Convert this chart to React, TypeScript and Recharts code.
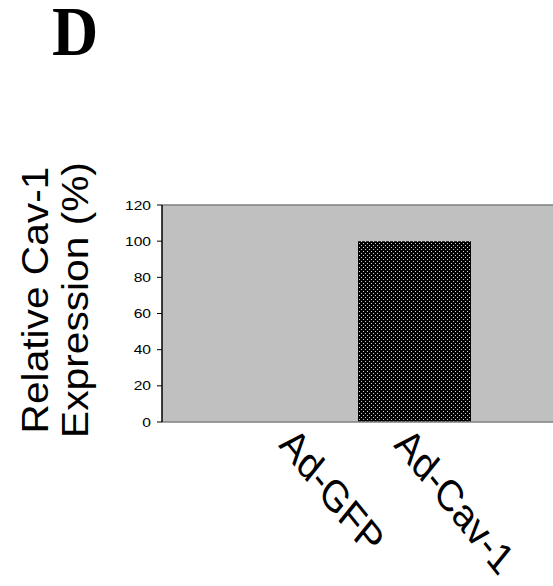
import { BarChart, Bar, XAxis, YAxis, CartesianGrid, ReferenceLine } from "recharts";

const groups = ["Ad-GFP", "Ad-Cav-1"];
const expression = [0, 100];
const yTicks = [0, 20, 40, 60, 80, 100, 120];

const data = groups.map((g, i) => ({ name: g, value: expression[i] }));

const font = "'Liberation Sans', Arial, sans-serif";

const YTick = (props: any) => {
  const { x, y, payload } = props;
  return (
    <text
      transform={`translate(${x},${y}) scale(1.2,1)`}
      textAnchor="end"
      dominantBaseline="central"
      fontFamily={font}
      fontSize={13}
      fill="#000"
    >
      {payload.value}
    </text>
  );
};

// labels are stretched vertically in the original, so scale y a bit
const XTick = (props: any) => {
  const { x, payload } = props;
  const ax = x - 21.5;
  const ay = 446;
  return (
    <text
      transform={`translate(${ax},${ay}) scale(1,1.24) rotate(45)`}
      textAnchor="start"
      fontFamily={font}
      fontSize={35.5}
      fill="#000"
    >
      {payload.value}
    </text>
  );
};

const YLabel = () => (
  <g fontFamily={font} fontSize={36} fill="#000">
    <text transform="translate(48,300) scale(1,1.13) rotate(-90)" textAnchor="middle">
      Relative Cav-1
    </text>
    <text transform="translate(88,300) scale(1,1.13) rotate(-90)" textAnchor="middle">
      Expression (%)
    </text>
  </g>
);

export default function App() {
  return (
    <div style={{ position: "absolute", left: 0, top: 0, width: 553, height: 586, overflow: "hidden", background: "#fff" }}>
      <svg width={553} height={100} style={{ position: "absolute", left: 0, top: 0 }}>
        <text
          transform="translate(52,55) scale(1,1.08)"
          fontFamily="'Liberation Serif', 'Times New Roman', serif"
          fontWeight="bold"
          fontSize={64}
        >
          D
        </text>
      </svg>
      <div style={{ position: "absolute", left: 0, top: 0 }}>
        <BarChart
          width={720}
          height={586}
          data={data}
          margin={{ top: 205, right: 20, bottom: 4, left: 0 }}
        >
          <defs>
            <pattern id="dots" width={4} height={4} patternUnits="userSpaceOnUse">
              <rect width={4} height={4} fill="#000" />
              <rect x={1} y={1} width={1} height={1} fill="#d0d0d0" />
              <rect x={3} y={3} width={1} height={1} fill="#d0d0d0" />
            </pattern>
          </defs>
          <CartesianGrid fill="#c0c0c0" horizontal={false} vertical={false} />
          <ReferenceLine y={120} stroke="#808080" strokeWidth={1.5} />
          <XAxis
            dataKey="name"
            height={160}
            padding={{ left: 80, right: 228 }}
            tickLine={false}
            axisLine={{ stroke: "#808080", strokeWidth: 1.5 }}
            tick={<XTick />}
            interval={0}
          />
          <YAxis
            width={162}
            domain={[0, 120]}
            ticks={yTicks}
            interval={0}
            tickSize={5}
            tickMargin={6}
            tickLine={{ stroke: "#000" }}
            axisLine={{ stroke: "#000", strokeWidth: 1.5 }}
            tick={<YTick />}
            label={<YLabel />}
          />
          <Bar dataKey="value" fill="url(#dots)" barSize={113} isAnimationActive={false} />
        </BarChart>
      </div>
    </div>
  );
}
